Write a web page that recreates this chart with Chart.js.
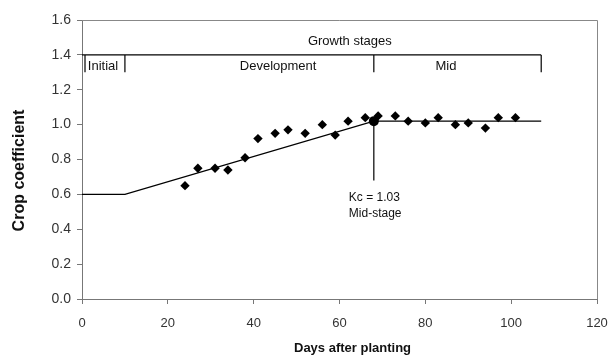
<!DOCTYPE html>
<html>
<head>
<meta charset="utf-8">
<script src="https://cdn.jsdelivr.net/npm/chart.js@4/dist/chart.umd.min.js"></script>
<style>
html,body{margin:0;padding:0;background:#fff;}
#wrap{width:612px;height:356px;}
</style>
</head>
<body>
<div id="wrap"><canvas id="c" width="612" height="356"></canvas></div>
<script>
// Observed crop coefficient values
const obsDays = [24, 27, 31, 34, 38, 41, 45, 48, 52, 56, 59, 62, 66, 69, 73, 76, 80, 83, 87, 90, 94, 97, 101];
const obsKc   = [0.65, 0.75, 0.75, 0.74, 0.81, 0.92, 0.95, 0.97, 0.95, 1.00, 0.94, 1.02, 1.04, 1.05, 1.05, 1.02, 1.01, 1.04, 1.00, 1.01, 0.98, 1.04, 1.04];
// Kc curve
const curveDays = [0, 10, 68, 107];
const curveKc   = [0.60, 0.60, 1.02, 1.02];
// Mid-stage marker
const midDay = 68;
const midKc = 1.02;
const midLineBottom = 0.68;
const midLabel = ["Kc = 1.03", "Mid-stage"];
// Growth stages
const stageNames = ["Initial", "Development", "Mid"];
const stageLabelDays = [4.9, 45.7, 84.8];
const stageBounds = [0.7, 10, 68, 107];
const stageLevel = 1.4;
const stageTickBottom = 1.3;
const stagesTitle = "Growth stages";
const stagesTitleDay = 62.4;
// Axes
const xTitle = "Days after planting";
const yTitle = "Crop coefficient";
const xMin = 0, xMax = 120, xStep = 20;
const yMin = 0, yMax = 1.6, yStep = 0.2;

const pts = (xs, ys) => xs.map((x, i) => ({x: x, y: ys[i]}));

const datasets = [];
datasets.push({
  type: 'scatter', data: pts(obsDays, obsKc), pointStyle: 'rectRot', pointRadius: 4.7,
  backgroundColor: '#000', borderColor: '#000', borderWidth: 0, showLine: false
});
datasets.push({
  type: 'line', data: pts(curveDays, curveKc), borderColor: '#000', borderWidth: 1.2,
  pointRadius: 0, fill: false, tension: 0
});
datasets.push({
  type: 'line', data: pts([midDay, midDay], [midKc, midLineBottom]), borderColor: '#000', borderWidth: 1.2,
  pointRadius: 0, fill: false
});
datasets.push({
  type: 'scatter', data: [{x: midDay, y: midKc}], pointStyle: 'circle', pointRadius: 5,
  backgroundColor: '#000', borderColor: '#000', borderWidth: 0
});
// stage bracket: horizontal line
datasets.push({
  type: 'line', data: pts([0, stageBounds[stageBounds.length-1]], [stageLevel, stageLevel]),
  borderColor: '#000', borderWidth: 1.2, pointRadius: 0, fill: false
});
stageBounds.forEach(b => {
  datasets.push({
    type: 'line', data: pts([b, b], [stageLevel, stageTickBottom]),
    borderColor: '#000', borderWidth: 1.2, pointRadius: 0, fill: false
  });
});

const textPlugin = {
  id: 'texts',
  afterDatasetsDraw(chart) {
    const ctx = chart.ctx, xs = chart.scales.x, ys = chart.scales.y, a = chart.chartArea;
    ctx.save();
    // frame top/right
    ctx.strokeStyle = '#888'; ctx.lineWidth = 1;
    ctx.beginPath();
    ctx.moveTo(a.left, Math.round(a.top) + 0.5); ctx.lineTo(Math.round(a.right) + 0.5, Math.round(a.top) + 0.5); ctx.lineTo(Math.round(a.right) + 0.5, a.bottom);
    ctx.stroke();
    ctx.fillStyle = '#111';
    ctx.font = '13px "Liberation Sans", Arial, sans-serif';
    ctx.textAlign = 'center'; ctx.textBaseline = 'middle';
    const yLab = ys.getPixelForValue(stageLevel) + 12;
    for (let i = 0; i < stageNames.length; i++) {
      ctx.fillText(stageNames[i], xs.getPixelForValue(stageLabelDays[i]), yLab);
    }
    ctx.fillText(stagesTitle, xs.getPixelForValue(stagesTitleDay), ys.getPixelForValue(stageLevel) - 13);
    ctx.font = '12px "Liberation Sans", Arial, sans-serif';
    ctx.textAlign = 'left';
    const lx = xs.getPixelForValue(midDay) - 25;
    const ly = ys.getPixelForValue(midLineBottom) + 17;
    ctx.fillText(midLabel[0], lx, ly);
    ctx.fillText(midLabel[1], lx, ly + 16);
    // axis titles
    ctx.textAlign = 'center';
    ctx.font = 'bold 13px "Liberation Sans", Arial, sans-serif';
    ctx.fillText(xTitle, (a.left + a.right) / 2 + 13, a.bottom + 49);
    ctx.save();
    ctx.translate(20, (a.top + a.bottom) / 2 + 11);
    ctx.rotate(-Math.PI / 2);
    ctx.font = 'bold 16px "Liberation Sans", Arial, sans-serif';
    ctx.fillText(yTitle, 0, 0);
    ctx.restore();
    ctx.restore();
  }
};

new Chart(document.getElementById('c'), {
  data: { datasets: datasets },
  options: {
    responsive: false, animation: false, devicePixelRatio: 1,
    layout: { padding: { left: 0, right: 15, top: 20, bottom: 0 } },
    plugins: { legend: { display: false }, tooltip: { enabled: false } },
    scales: {
      x: {
        type: 'linear', min: xMin, max: xMax,
        ticks: { stepSize: xStep, color: '#333', font: { size: 13, family: '"Liberation Sans", Arial' }, padding: 12 },
        grid: { display: true, drawOnChartArea: false, drawTicks: true, tickLength: 5, color: '#777' },
        border: { display: true, color: '#777', width: 1 },
        title: { display: false },
        afterFit(s) { s.height = 57; s.paddingLeft = 0; s.paddingRight = 0; }
      },
      y: {
        type: 'linear', min: yMin, max: yMax,
        ticks: { stepSize: yStep, color: '#333', font: { size: 14, family: '"Liberation Sans", Arial' }, padding: 6,
          callback: v => v.toFixed(1) },
        grid: { display: true, drawOnChartArea: false, drawTicks: true, tickLength: 5, color: '#777' },
        border: { display: true, color: '#777', width: 1 },
        title: { display: false },
        afterFit(s) { s.width = 82; s.paddingTop = 0; s.paddingBottom = 0; }
      }
    }
  },
  plugins: [textPlugin]
});
</script>
</body>
</html>
